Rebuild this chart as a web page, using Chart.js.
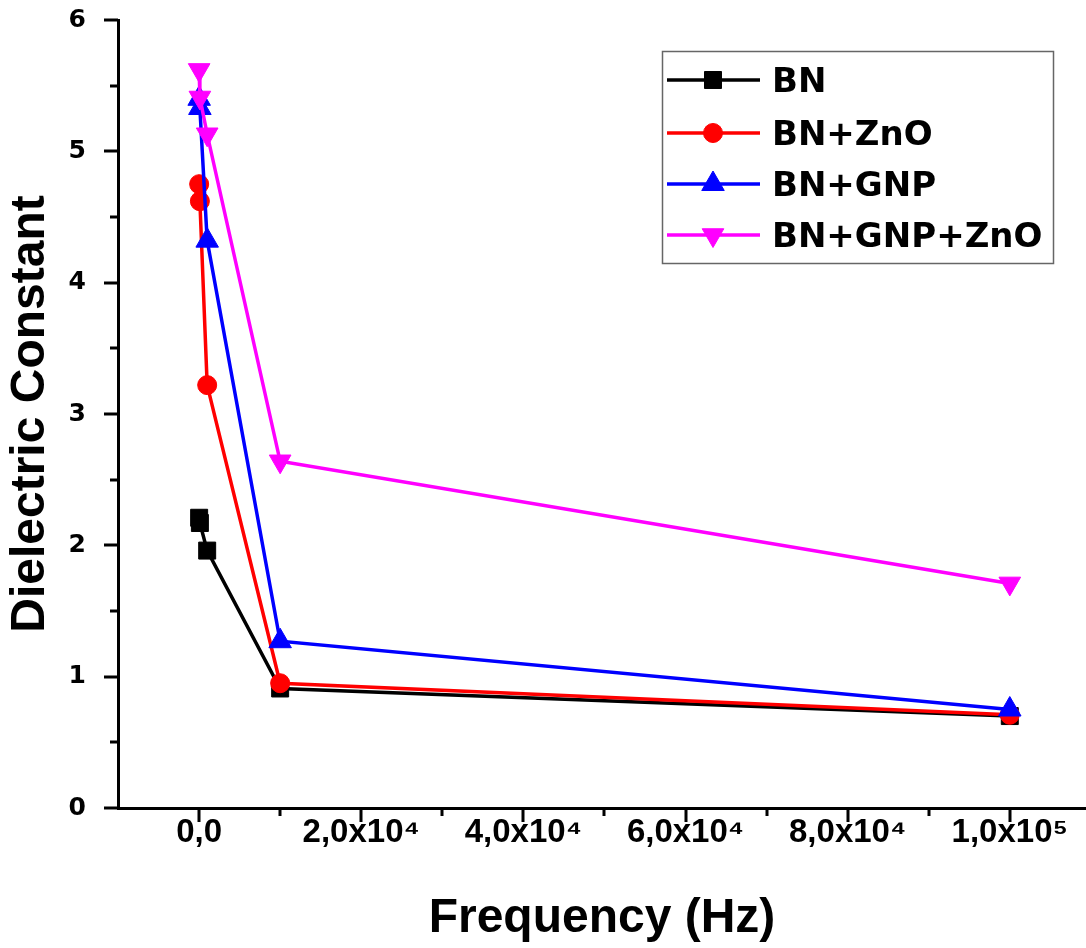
<!DOCTYPE html>
<html>
<head>
<meta charset="utf-8">
<script src="https://cdn.jsdelivr.net/npm/chart.js@4.4.1/dist/chart.umd.min.js"></script>
<style>
html, body { margin: 0; padding: 0; background: #fff; overflow: hidden; }
#wrap { width: 1086px; height: 948px; }
</style>
</head>
<body>
<div id="wrap"><canvas id="chart" width="1086" height="948"></canvas></div>
<script>
// frequency in Hz
var frequency = [10, 100, 1000, 10000, 100000];
var bn = [2.21, 2.17, 1.96, 0.91, 0.70];
var bnZnO = [4.75, 4.62, 3.22, 0.95, 0.71];
var bnGnp = [5.40, 5.33, 4.32, 1.27, 0.75];
var bnGnpZnO = [5.62, 5.41, 5.13, 2.64, 1.71];
var seriesNames = ["BN", "BN+ZnO", "BN+GNP", "BN+GNP+ZnO"];

var xTickValues = [0, 20000, 40000, 60000, 80000, 100000];
var xTickLabels = ["0,0", "2,0x10\u2074", "4,0x10\u2074", "6,0x10\u2074", "8,0x10\u2074", "1,0x10\u2075"];
var yTickValues = [0, 1, 2, 3, 4, 5, 6];

function toPoints(ys) {
    var pts = [];
    for (var i = 0; i < frequency.length; i++) {
        pts.push({ x: frequency[i], y: ys[i] });
    }
    return pts;
}

function makeSet(label, ys, color, style, radius, rotation, order) {
    return {
        label: label,
        data: toPoints(ys),
        borderColor: color,
        backgroundColor: color,
        borderWidth: 3.5,
        pointStyle: style,
        pointRadius: radius,
        pointRotation: rotation,
        pointBorderWidth: 1,
        pointBorderColor: color,
        pointBackgroundColor: color,
        showLine: true,
        tension: 0,
        clip: false,
        order: order
    };
}

// outward major/minor ticks drawn from the scales
var tickMarks = {
    id: "tickMarks",
    afterDraw: function (chart) {
        var ctx = chart.ctx;
        var xs = chart.scales.x, ys = chart.scales.y;
        ctx.save();
        ctx.strokeStyle = "#000";
        ctx.lineWidth = 3;
        ctx.beginPath();
        ys.ticks.forEach(function (t) {
            var py = Math.round(ys.getPixelForValue(t.value));
            var len = yTickValues.indexOf(t.value) >= 0 ? 14 : 8;
            ctx.moveTo(ys.right, py);
            ctx.lineTo(ys.right - len, py);
        });
        xs.ticks.forEach(function (t) {
            if (t.value <= xs.min) return;
            var px = Math.round(xs.getPixelForValue(t.value));
            var len = xTickValues.indexOf(t.value) >= 0 ? 14 : 8;
            ctx.moveTo(px, xs.top);
            ctx.lineTo(px, xs.top + len);
        });
        ctx.stroke();
        ctx.restore();
    }
};

var boxLegend = {
    id: "boxLegend",
    afterDraw: function (chart) {
        var ctx = chart.ctx;
        ctx.save();
        ctx.strokeStyle = "#666";
        ctx.lineWidth = 1.5;
        ctx.strokeRect(662.5, 51.5, 391, 212);
        var rows = [80, 133, 184, 235];
        chart.data.datasets.forEach(function (ds, i) {
            var y = rows[i];
            ctx.strokeStyle = ds.borderColor;
            ctx.fillStyle = ds.borderColor;
            ctx.lineWidth = 3.5;
            ctx.beginPath();
            ctx.moveTo(667, y);
            ctx.lineTo(760, y);
            ctx.stroke();
            ctx.lineWidth = 1;
            Chart.helpers.drawPoint(ctx, {
                pointStyle: ds.pointStyle,
                rotation: ds.pointRotation,
                radius: ds.pointRadius,
                borderWidth: 1
            }, 713, y);
            ctx.fillStyle = "#000";
            ctx.font = "bold 34px 'DejaVu Sans'";
            ctx.textBaseline = "middle";
            ctx.textAlign = "left";
            ctx.fillText(seriesNames[i], 772, y + 3);
        });
        ctx.restore();
    }
};

new Chart(document.getElementById("chart"), {
    type: "line",
    data: {
        datasets: [
            makeSet(seriesNames[0], bn, "#000000", "rect", 12, 0, 4),
            makeSet(seriesNames[1], bnZnO, "#ff0000", "circle", 9.5, 0, 3),
            makeSet(seriesNames[2], bnGnp, "#0000ff", "triangle", 13, 0, 2),
            makeSet(seriesNames[3], bnGnpZnO, "#ff00ff", "triangle", 12.5, 180, 1)
        ]
    },
    options: {
        responsive: false,
        animation: false,
        devicePixelRatio: 1,
        layout: { autoPadding: false, padding: { top: 20, right: 0, left: 0, bottom: 0 } },
        plugins: {
            legend: { display: false },
            tooltip: { enabled: false }
        },
        scales: {
            x: {
                type: "linear",
                min: -10000,
                max: 109400,
                grid: { display: true, drawOnChartArea: false, drawTicks: true, tickLength: 5, color: "rgba(0,0,0,0)" },
                border: { display: true, color: "#000", width: 3 },
                ticks: {
                    autoSkip: false,
                    maxRotation: 0,
                    color: "#000",
                    padding: 0,
                    font: { family: "'Liberation Sans', Arial", size: 33, weight: "bold" },
                    callback: function (v) {
                        var i = xTickValues.indexOf(v);
                        return i >= 0 ? xTickLabels[i] : "";
                    }
                },
                title: {
                    display: true,
                    text: "Frequency (Hz)",
                    color: "#000",
                    padding: 0,
                    font: { family: "'Liberation Sans', Arial", size: 48, weight: "bold" }
                },
                // major every 2x10^4, minor halfway between
                afterBuildTicks: function (s) {
                    var t = [];
                    for (var v = -10000; v <= s.max; v += 10000) t.push({ value: v });
                    s.ticks = t;
                },
                afterFit: function (s) {
                    s.height = 140;
                    s.paddingLeft = 0;
                    s.paddingRight = 0;
                }
            },
            y: {
                min: 0,
                max: 6,
                grid: { display: true, drawOnChartArea: false, drawTicks: true, tickLength: 28, color: "rgba(0,0,0,0)" },
                border: { display: true, color: "#000", width: 3 },
                ticks: {
                    stepSize: 0.5,
                    autoSkip: false,
                    color: "#000",
                    padding: 4,
                    font: { family: "'DejaVu Sans'", size: 25, weight: "bold" },
                    callback: function (v) {
                        return yTickValues.indexOf(v) >= 0 ? String(v) : "";
                    }
                },
                title: {
                    display: true,
                    text: "Dielectric Constant",
                    color: "#000",
                    padding: { top: 2, bottom: 0 },
                    font: { family: "'Liberation Sans', Arial", size: 48, weight: "bold" }
                },
                afterFit: function (s) {
                    s.width = 118;
                    s.paddingTop = 0;
                    s.paddingBottom = 0;
                }
            }
        }
    },
    plugins: [tickMarks, boxLegend]
});
</script>
</body>
</html>
